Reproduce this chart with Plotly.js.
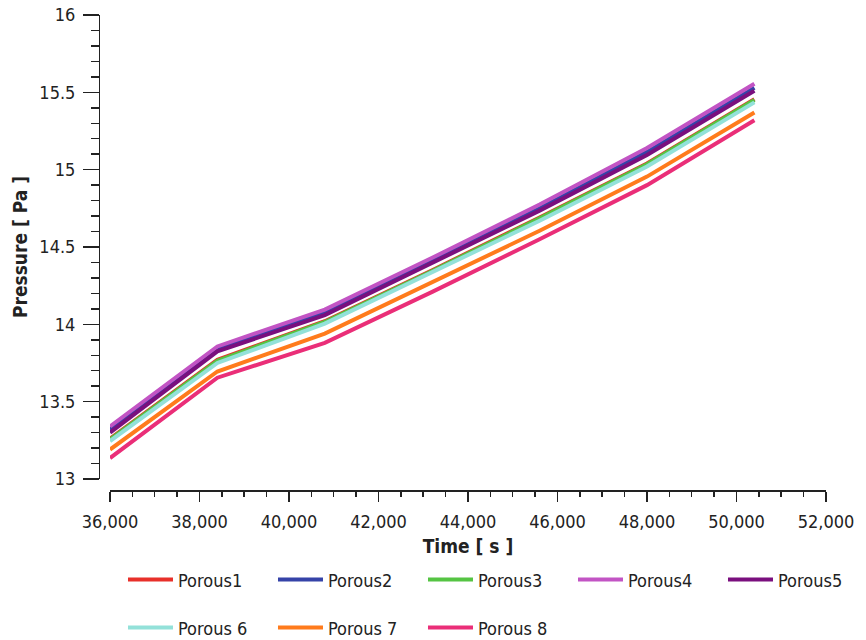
<!DOCTYPE html>
<html>
<head>
<meta charset="utf-8">
<script src="https://cdn.plot.ly/plotly-3.0.1.min.js"></script>
<style>html,body{margin:0;padding:0;background:#fff;}#chart{width:866px;height:640px;}</style>
</head>
<body>
<div id="chart"></div>
<script>
const timeS = [36000, 38400, 40800, 43200, 45600, 48000, 50400];
const porous1 = [13.26, 13.77, 14.02, 14.35, 14.69, 15.04, 15.455];
const porous2 = [13.32, 13.84, 14.075, 14.41, 14.75, 15.115, 15.53];
const porous3 = [13.255, 13.765, 14.015, 14.345, 14.685, 15.035, 15.45];
const porous4 = [13.34, 13.857, 14.095, 14.43, 14.775, 15.14, 15.555];
const porous5 = [13.30, 13.825, 14.06, 14.395, 14.735, 15.095, 15.51];
const porous6 = [13.245, 13.75, 14.005, 14.335, 14.67, 15.02, 15.435];
const porous7 = [13.19, 13.695, 13.94, 14.27, 14.605, 14.955, 15.37];
const porous8 = [13.135, 13.655, 13.88, 14.21, 14.55, 14.90, 15.32];

const seriesNames = ['Porous1','Porous2','Porous3','Porous4','Porous5','Porous 6','Porous 7','Porous 8'];
const seriesValues = [porous1, porous2, porous3, porous4, porous5, porous6, porous7, porous8];
const seriesColors = ['#e8302a','#3543a8','#55c443','#c254c4','#7a0f7e','#93e1d9','#ff7b1c','#ea2e78'];

const FONT = '"DejaVu Sans Condensed", "DejaVu Sans", sans-serif';

const traces = seriesValues.map((vals, i) => ({
  x: timeS, y: vals, name: seriesNames[i], type: 'scatter', mode: 'lines',
  line: {color: seriesColors[i], width: 4},
  legend: i < 5 ? 'legend' : 'legend2'
}));

const legendCommon = {
  orientation: 'h', xanchor: 'left', yanchor: 'middle',
  xref: 'paper', yref: 'container',
  entrywidth: 90, entrywidthmode: 'pixels', itemwidth: 45,
  font: {family: FONT, size: 18, color: '#222'}, bgcolor: 'rgba(0,0,0,0)'
};

const layout = {
  width: 866, height: 640,
  margin: {l: 0, r: 40, t: 15, b: 150, autoexpand: false},
  paper_bgcolor: '#fff', plot_bgcolor: '#fff',
  font: {family: FONT, color: '#222', size: 18},
  showlegend: true,
  xaxis: {
    domain: [0.13317, 1], anchor: 'free', position: 0, automargin: false,
    range: [36000, 52000], dtick: 2000, tick0: 36000, tickformat: ',',
    showgrid: false, zeroline: false, showline: true, linecolor: '#222', linewidth: 1.5,
    ticks: 'outside', ticklen: 10, tickwidth: 1.5, tickcolor: '#222',
    minor: {ticks: 'outside', ticklen: 5, dtick: 500, tickcolor: '#222', tickwidth: 1.5, showgrid: false},
    tickfont: {family: FONT, size: 18, color: '#222'},
    ticklabelstandoff: 5,
    title: {text: 'Time [ s ]', font: {family: FONT, size: 19, color: '#222', weight: 'bold'}, standoff: 8}
  },
  yaxis: {
    domain: [0.0232, 1], anchor: 'free', position: 0.11985, automargin: false,
    range: [13, 16], dtick: 0.5, tick0: 13,
    showgrid: false, zeroline: false, showline: true, linecolor: '#222', linewidth: 1.5,
    ticks: 'outside', ticklen: 16, tickwidth: 1.5, tickcolor: '#222',
    minor: {ticks: 'outside', ticklen: 8, dtick: 0.1, tickcolor: '#222', tickwidth: 1.5, showgrid: false},
    tickfont: {family: FONT, size: 18, color: '#222'},
    ticklabelstandoff: 4,
    title: {text: 'Pressure [ Pa ]', font: {family: FONT, size: 19, color: '#222', weight: 'bold'}, standoff: 5}
  },
  legend: Object.assign({x: 0.1489, y: 0.094}, legendCommon),
  legend2: Object.assign({x: 0.1489, y: 0.019}, legendCommon)
};

Plotly.newPlot('chart', traces, layout, {displayModeBar: false, staticPlot: true});
</script>
</body>
</html>
